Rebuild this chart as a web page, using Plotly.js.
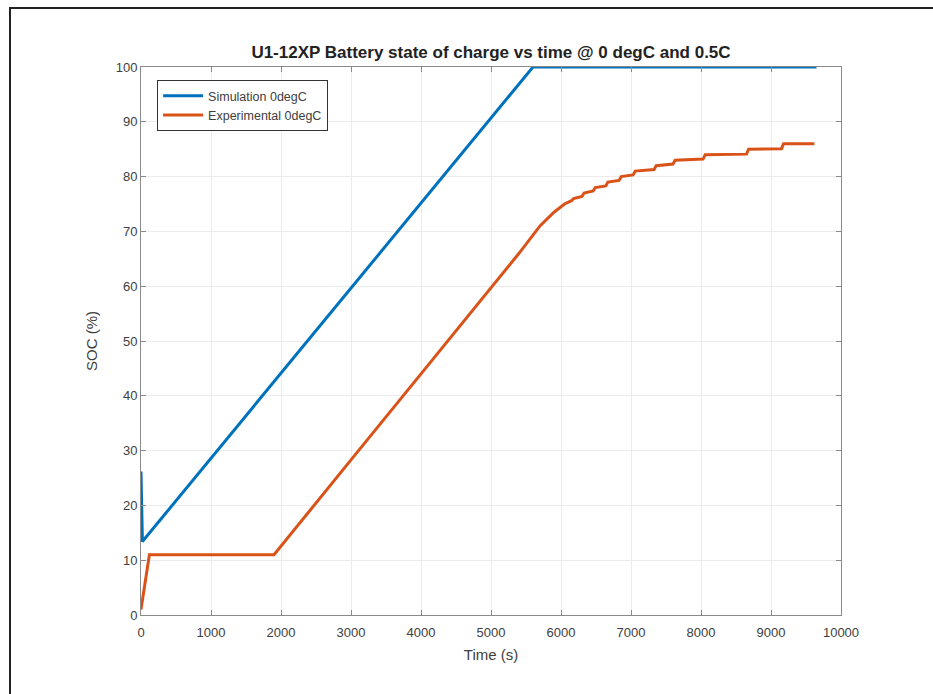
<!DOCTYPE html>
<html>
<head>
<meta charset="utf-8">
<script src="https://cdn.plot.ly/plotly-3.0.1.min.js"></script>
<style>
  html, body { margin: 0; padding: 0; background: #fff; }
  #wrap { position: relative; width: 933px; height: 694px; overflow: hidden; }
  #plot-root { position: absolute; left: 0; top: 0; width: 933px; height: 694px; }
  /* frame of the exported figure, only top and left edges show */
  #frame { position: absolute; left: 9px; top: 7px; width: 940px; height: 700px;
           border-top: 2px solid #222; border-left: 2px solid #222; pointer-events: none; }
</style>
</head>
<body>
<div id="wrap">
  <div id="plot-root"></div>
  <div id="frame"></div>
</div>
<script>
// ===== data =====
const simTime = [0, 0, 20, 5600, 9650];
const simSoc  = [26.2, 26.2, 13.4, 100, 100];

// experimental: ramp, plateau, linear charge, then 1% steps
const expTime = [0, 120, 1900, 2500, 3000, 4000, 5000, 5400, 5700, 5900, 6050,
                 6150, 6180, 6300, 6330, 6460, 6490, 6640, 6670, 6830, 6860,
                 7030, 7060, 7330, 7360, 7600, 7630, 8030, 8060, 8650, 8680,
                 9150, 9180, 9620];
const expSoc  = [1, 11, 11, 20.5, 28.3, 44, 59.6, 66, 71, 73.5, 75,
                 75.6, 76, 76.4, 77, 77.4, 78, 78.3, 79, 79.3, 80,
                 80.3, 81, 81.3, 82, 82.3, 83, 83.2, 84, 84.1, 85,
                 85.1, 86, 86];

const xTicks = [0, 1000, 2000, 3000, 4000, 5000, 6000, 7000, 8000, 9000, 10000];
const yTicks = [0, 10, 20, 30, 40, 50, 60, 70, 80, 90, 100];

// ===== drawing =====
const fam = "Liberation Sans, Arial, sans-serif";
const font = { family: fam, size: 13, color: "#404040" };

const traces = [
  {
    x: simTime, y: simSoc, mode: "lines", name: "Simulation 0degC",
    line: { color: "#0072BD", width: 3 }
  },
  {
    x: expTime, y: expSoc, mode: "lines", name: "Experimental 0degC",
    line: { color: "#D95319", width: 3 }
  }
];

const axisCommon = {
  showline: true, linecolor: "#8a8a8a", linewidth: 1, mirror: "ticks",
  ticks: "inside", ticklen: 5, tickcolor: "#8a8a8a", tickwidth: 1,
  showgrid: true, gridcolor: "#ececec", gridwidth: 1,
  zeroline: false, tickfont: font
};

const layout = {
  width: 933, height: 694,
  margin: { l: 141, r: 92, t: 67, b: 79 },
  paper_bgcolor: "#ffffff", plot_bgcolor: "#ffffff",
  font: font,
  showlegend: true,
  title: {
    text: "<b>U1-12XP Battery state of charge vs time @ 0 degC and 0.5C</b>",
    font: { family: fam, size: 17, color: "#222" },
    x: 0.5, xref: "paper", y: 1 - 52 / 694, yref: "container", yanchor: "middle"
  },
  xaxis: Object.assign({}, axisCommon, {
    range: [0, 10000], tickvals: xTicks, ticktext: xTicks.map(String),
    ticklabelstandoff: 5,
    title: { text: "Time (s)", font: { family: fam, size: 15, color: "#404040" }, standoff: 10 }
  }),
  yaxis: Object.assign({}, axisCommon, {
    range: [0, 100], tickvals: yTicks, ticktext: yTicks.map(String),
    title: { text: "SOC (%)", font: { family: fam, size: 15, color: "#404040" }, standoff: 14 }
  }),
  legend: {
    x: 0.023, y: 0.976, xanchor: "left", yanchor: "top",
    bgcolor: "#ffffff", bordercolor: "#333", borderwidth: 1,
    font: { family: fam, size: 12.5, color: "#404040" },
    tracegroupgap: 0, itemwidth: 40
  }
};

Plotly.newPlot("plot-root", traces, layout, { displayModeBar: false, staticPlot: true });
</script>
</body>
</html>
